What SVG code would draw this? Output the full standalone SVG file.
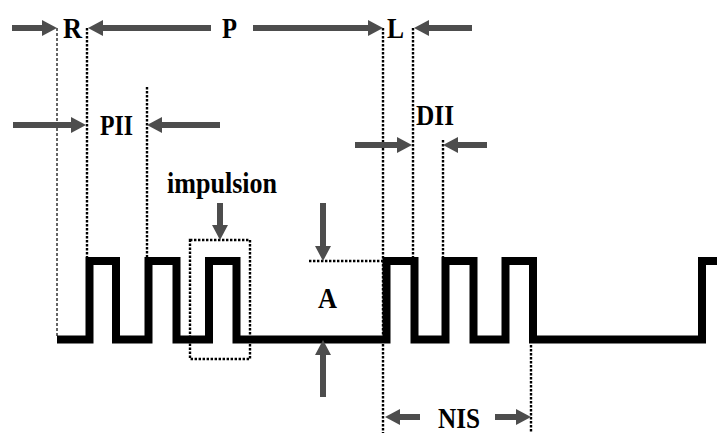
<svg xmlns="http://www.w3.org/2000/svg" width="717" height="433" viewBox="0 0 717 433">
<style>
.lbl{font-family:"Liberation Serif","Times New Roman",serif;font-weight:bold;font-size:30px;fill:#000}
.arr{stroke:#4d4d4d;stroke-width:6;fill:none;marker-end:url(#ah)}
.dot{stroke:#000;stroke-width:2.4;stroke-dasharray:2.4 1.6;fill:none}
.thin{stroke:#000;stroke-width:1.2;stroke-dasharray:3 2;fill:none}
.wave{stroke:#000;stroke-width:8;fill:none;stroke-linejoin:miter}
</style>
<defs>
<marker id="ah" markerUnits="userSpaceOnUse" markerWidth="16" markerHeight="16" refX="1" refY="8" orient="auto">
<path d="M0,0 L15,8 L0,16 z" fill="#4d4d4d"/>
</marker>
</defs>
<rect width="717" height="433" fill="#fff"/>
<g id="guides">
<line class="thin" x1="57" y1="28" x2="57" y2="336"/>
<line class="dot" x1="87" y1="28" x2="87" y2="257"/>
<line class="dot" x1="147" y1="87" x2="147" y2="257"/>
<line class="dot" x1="383" y1="28" x2="383" y2="433"/>
<line class="dot" x1="413" y1="28" x2="413" y2="257"/>
<line class="dot" x1="443" y1="140" x2="443" y2="257"/>
<line class="dot" x1="531" y1="345" x2="531" y2="433"/>
<line class="dot" x1="309" y1="261" x2="383" y2="261"/>
</g>
<g id="impulsion-box">
<rect class="dot" x="190" y="240" width="60" height="119"/>
</g>
<g id="waveform">
<path class="wave" d="M57,339.5 H89.5 V261 H116 V339.5 H148.5 V261 H176.5 V339.5 H209 V261 H236.5 V339.5 H386.5 V261 H414.5 V339.5 H445.5 V261 H473.5 V339.5 H505.5 V261 H533 V339.5 H702 V261 H717"/>
</g>
<g id="connectors">
<line class="arr" x1="12" y1="28" x2="43" y2="28"/>
<line class="arr" x1="211" y1="28" x2="102" y2="28"/>
<line class="arr" x1="253" y1="28" x2="369" y2="28"/>
<line class="arr" x1="472" y1="28" x2="428" y2="28"/>
<line class="arr" x1="13" y1="125" x2="72" y2="125"/>
<line class="arr" x1="220" y1="125" x2="161" y2="125"/>
<line class="arr" x1="355" y1="145" x2="398" y2="145"/>
<line class="arr" x1="487" y1="145" x2="457" y2="145"/>
<line class="arr" x1="220" y1="203" x2="220" y2="226"/>
<line class="arr" x1="323" y1="203" x2="323" y2="247"/>
<line class="arr" x1="323" y1="397" x2="323" y2="354"/>
<line class="arr" x1="420" y1="417" x2="399" y2="417"/>
<line class="arr" x1="495" y1="417" x2="517" y2="417"/>
</g>
<g id="label-R"><text class="lbl" x="63" y="38" textLength="19" lengthAdjust="spacingAndGlyphs">R</text></g>
<g id="label-P"><text class="lbl" x="222" y="38" textLength="15" lengthAdjust="spacingAndGlyphs">P</text></g>
<g id="label-L"><text class="lbl" x="387" y="38" textLength="17" lengthAdjust="spacingAndGlyphs">L</text></g>
<g id="label-PII"><text class="lbl" x="100" y="135" textLength="33" lengthAdjust="spacingAndGlyphs">PII</text></g>
<g id="label-DII"><text class="lbl" x="416" y="125" textLength="38" lengthAdjust="spacingAndGlyphs">DII</text></g>
<g id="label-impulsion"><text class="lbl" x="167" y="193" textLength="110" lengthAdjust="spacingAndGlyphs" style="font-size:29px">impulsion</text></g>
<g id="label-A"><text class="lbl" x="318" y="308" textLength="19" lengthAdjust="spacingAndGlyphs">A</text></g>
<g id="label-NIS"><text class="lbl" x="438" y="428" textLength="42" lengthAdjust="spacingAndGlyphs">NIS</text></g>
</svg>
